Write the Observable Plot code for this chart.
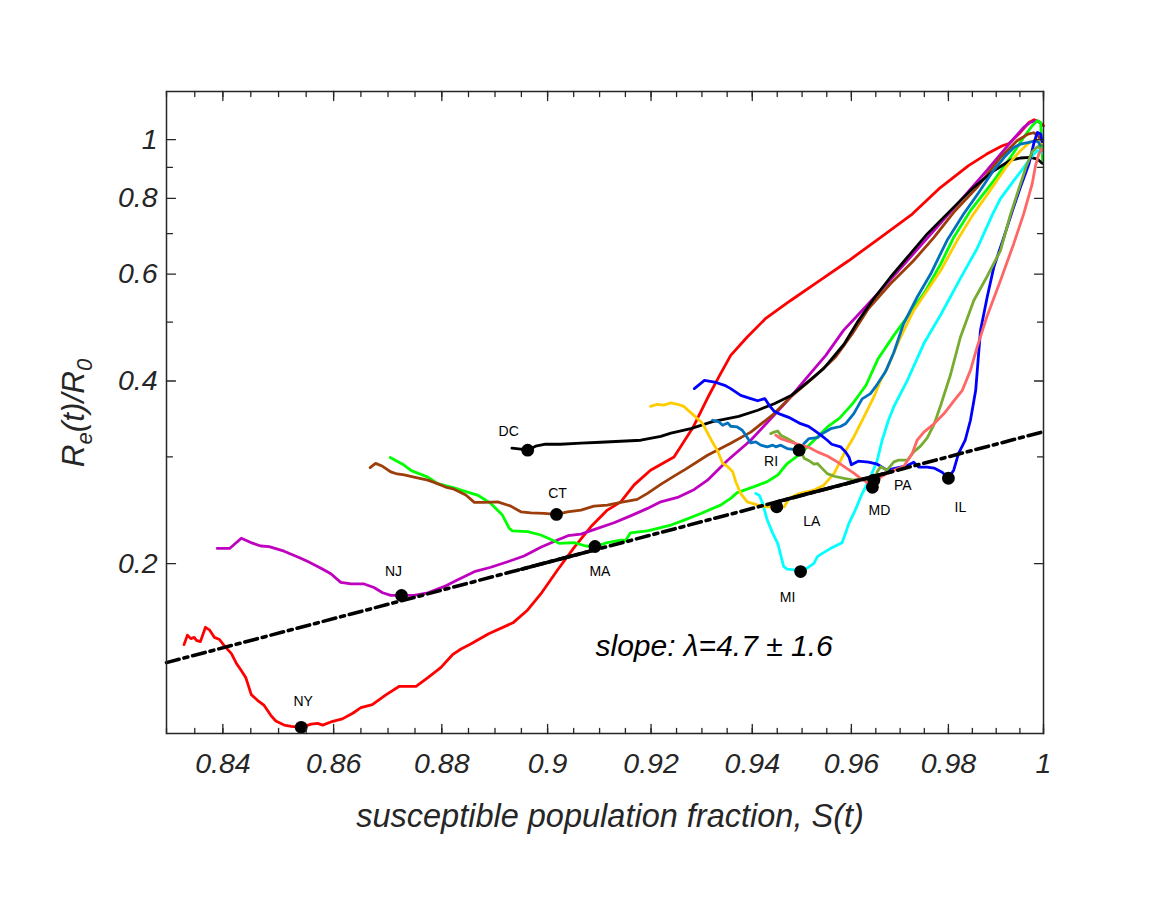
<!DOCTYPE html>
<html>
<head>
<meta charset="utf-8">
<script src="https://cdn.jsdelivr.net/npm/d3@7"></script>
<script src="https://cdn.jsdelivr.net/npm/@observablehq/plot@0.6"></script>
<style>
  body { margin: 0; background: #ffffff; }
  svg { display: block; }
</style>
</head>
<body>
<div id="chart"></div>
<script>
// ---------------- DATA ----------------
// state curves: [S(t), Re(t)/R0]
const NY = [[0.8331,0.1471],[0.8337,0.1525],[0.8343,0.1505],[0.8349,0.1512],[0.8353,0.1495],[0.8360,0.1488],[0.8369,0.1571],[0.8376,0.1556],[0.8385,0.1512],[0.8394,0.1500],[0.8403,0.1463],[0.8415,0.1423],[0.8424,0.1371],[0.8432,0.1337],[0.8441,0.1298],[0.8451,0.1216],[0.8462,0.1191],[0.8474,0.1168],[0.8486,0.1125],[0.8495,0.1101],[0.8510,0.1084],[0.8523,0.1079],[0.8541,0.1075],[0.8559,0.1088],[0.8571,0.1091],[0.8580,0.1084],[0.8595,0.1097],[0.8616,0.1110],[0.8635,0.1134],[0.8650,0.1158],[0.8671,0.1172],[0.8696,0.1216],[0.8721,0.1256],[0.8752,0.1256],[0.8774,0.1298],[0.8798,0.1348],[0.8820,0.1416],[0.8836,0.1447],[0.8855,0.1476],[0.8888,0.1533],[0.8934,0.1598],[0.8962,0.1678],[0.8987,0.1783],[0.9019,0.1953],[0.9051,0.2128],[0.9083,0.2300],[0.9115,0.2451],[0.9141,0.2529],[0.9167,0.2697],[0.9199,0.2852],[0.9245,0.2998],[0.9282,0.3350],[0.9314,0.3790],[0.9334,0.4071],[0.9357,0.4409],[0.9390,0.4727],[0.9427,0.5074],[0.9477,0.5430],[0.9531,0.5820],[0.9595,0.6319],[0.9660,0.6899],[0.9725,0.7538],[0.9780,0.8290],[0.9842,0.9056],[0.9880,0.9464],[0.9913,0.9768],[0.9927,0.9853],[0.9951,1.0273],[0.9969,1.0669],[0.9980,1.0779],[0.9990,1.0710],[1.0,1.0537]];
const NJ = [[0.8390,0.2119],[0.8412,0.2119],[0.8433,0.2203],[0.8450,0.2167],[0.8468,0.2139],[0.8483,0.2134],[0.8510,0.2097],[0.8537,0.2048],[0.8553,0.2016],[0.8576,0.1968],[0.8595,0.1925],[0.8613,0.1863],[0.8632,0.1852],[0.8656,0.1852],[0.8674,0.1827],[0.8690,0.1791],[0.8705,0.1773],[0.8725,0.1773],[0.8748,0.1773],[0.8774,0.1791],[0.8804,0.1833],[0.8829,0.1880],[0.8861,0.1940],[0.8892,0.1973],[0.8924,0.2015],[0.8955,0.2059],[0.8987,0.2129],[0.9019,0.2188],[0.9039,0.2224],[0.9064,0.2238],[0.9096,0.2287],[0.9128,0.2336],[0.9160,0.2398],[0.9193,0.2467],[0.9219,0.2529],[0.9252,0.2572],[0.9285,0.2651],[0.9311,0.2746],[0.9351,0.2962],[0.9397,0.3195],[0.9437,0.3467],[0.9477,0.3765],[0.9510,0.4055],[0.9548,0.4409],[0.9584,0.4847],[0.9622,0.5228],[0.9660,0.5640],[0.9715,0.6319],[0.9770,0.7079],[0.9825,0.7931],[0.9880,0.8885],[0.9930,0.9890],[0.9958,1.0469],[0.9972,1.0669],[0.9983,1.0738],[0.9994,1.0657]];
const MA = [[0.8704,0.2992],[0.8727,0.2918],[0.8743,0.2847],[0.8774,0.2778],[0.8792,0.2710],[0.8823,0.2666],[0.8836,0.2644],[0.8867,0.2595],[0.8892,0.2514],[0.8914,0.2405],[0.8927,0.2287],[0.8933,0.2266],[0.8962,0.2258],[0.8987,0.2230],[0.9012,0.2182],[0.9022,0.2161],[0.9051,0.2166],[0.9073,0.2139],[0.9091,0.2135],[0.9115,0.2166],[0.9141,0.2188],[0.9150,0.2182],[0.9160,0.2249],[0.9193,0.2266],[0.9239,0.2316],[0.9265,0.2360],[0.9298,0.2420],[0.9337,0.2498],[0.9357,0.2563],[0.9370,0.2619],[0.9404,0.2679],[0.9430,0.2731],[0.9451,0.2800],[0.9470,0.2925],[0.9497,0.3038],[0.9531,0.3235],[0.9552,0.3364],[0.9576,0.3474],[0.9603,0.3674],[0.9630,0.3936],[0.9654,0.4343],[0.9687,0.4756],[0.9722,0.5195],[0.9753,0.5640],[0.9784,0.6239],[0.9811,0.6898],[0.9846,0.7636],[0.9895,0.8555],[0.9930,0.9344],[0.9958,1.0080],[0.9976,1.0537],[0.9987,1.0738],[0.9994,1.0657],[0.9996,0.9900],[0.9998,0.9250]];
const CT = [[0.8667,0.2880],[0.8677,0.2926],[0.8690,0.2894],[0.8705,0.2833],[0.8717,0.2811],[0.8730,0.2801],[0.8748,0.2778],[0.8774,0.2746],[0.8792,0.2710],[0.8807,0.2675],[0.8823,0.2654],[0.8845,0.2595],[0.8861,0.2524],[0.8880,0.2524],[0.8905,0.2529],[0.8930,0.2488],[0.8949,0.2435],[0.8968,0.2426],[0.8993,0.2420],[0.9017,0.2411],[0.9038,0.2435],[0.9064,0.2451],[0.9089,0.2488],[0.9115,0.2498],[0.9141,0.2523],[0.9173,0.2553],[0.9193,0.2612],[0.9219,0.2702],[0.9245,0.2788],[0.9268,0.2863],[0.9311,0.3018],[0.9357,0.3158],[0.9397,0.3295],[0.9427,0.3447],[0.9444,0.3535],[0.9477,0.3765],[0.9524,0.4059],[0.9568,0.4381],[0.9602,0.4786],[0.9635,0.5267],[0.9680,0.5786],[0.9728,0.6319],[0.9770,0.6899],[0.9811,0.7587],[0.9860,0.8341],[0.9909,0.9344],[0.9944,0.9955],[0.9967,1.0210],[0.9979,1.0261],[0.9989,1.0145],[0.9997,0.9831]];
const DC = [[0.8932,0.3100],[0.8949,0.3089],[0.8962,0.3077],[0.8977,0.3123],[0.8996,0.3147],[0.9025,0.3147],[0.9064,0.3159],[0.9102,0.3171],[0.9141,0.3183],[0.9180,0.3195],[0.9219,0.3243],[0.9239,0.3282],[0.9278,0.3340],[0.9321,0.3428],[0.9373,0.3497],[0.9411,0.3580],[0.9444,0.3670],[0.9477,0.3782],[0.9510,0.3977],[0.9544,0.4197],[0.9585,0.4599],[0.9612,0.4997],[0.9646,0.5470],[0.9680,0.5930],[0.9715,0.6398],[0.9756,0.6990],[0.9804,0.7636],[0.9853,0.8341],[0.9895,0.8885],[0.9930,0.9245],[0.9951,0.9324],[0.9972,0.9345],[0.9987,0.9287],[0.9997,0.9140]];
const MI = [[0.9407,0.2610],[0.9414,0.2593],[0.9421,0.2512],[0.9430,0.2360],[0.9441,0.2244],[0.9451,0.2161],[0.9457,0.2067],[0.9463,0.1978],[0.9470,0.1959],[0.9484,0.1953],[0.9497,0.1941],[0.9510,0.1966],[0.9524,0.2003],[0.9531,0.2054],[0.9541,0.2080],[0.9558,0.2120],[0.9581,0.2166],[0.9588,0.2244],[0.9595,0.2331],[0.9608,0.2451],[0.9622,0.2610],[0.9639,0.2778],[0.9653,0.2962],[0.9663,0.3195],[0.9676,0.3447],[0.9687,0.3629],[0.9715,0.4011],[0.9749,0.4611],[0.9784,0.5144],[0.9825,0.5905],[0.9860,0.6614],[0.9892,0.7521],[0.9909,0.7990],[0.9937,0.8555],[0.9958,0.8988],[0.9976,0.9405],[0.9987,0.9585],[0.9997,0.9512]];
const LA = [[0.9199,0.3634],[0.9212,0.3662],[0.9225,0.3650],[0.9239,0.3681],[0.9252,0.3662],[0.9265,0.3629],[0.9278,0.3548],[0.9291,0.3470],[0.9301,0.3407],[0.9311,0.3287],[0.9321,0.3170],[0.9331,0.3068],[0.9341,0.2928],[0.9351,0.2890],[0.9361,0.2836],[0.9367,0.2730],[0.9377,0.2610],[0.9390,0.2529],[0.9411,0.2498],[0.9430,0.2482],[0.9449,0.2482],[0.9464,0.2482],[0.9474,0.2563],[0.9494,0.2610],[0.9524,0.2644],[0.9544,0.2694],[0.9565,0.2817],[0.9585,0.3038],[0.9605,0.3235],[0.9626,0.3493],[0.9646,0.3765],[0.9660,0.4011],[0.9673,0.4193],[0.9701,0.4726],[0.9728,0.5228],[0.9756,0.5640],[0.9784,0.6084],[0.9818,0.6816],[0.9850,0.7493],[0.9884,0.8174],[0.9923,0.9056],[0.9951,0.9585],[0.9972,0.9917],[0.9987,0.9992],[0.9997,0.9861]];
const RI = [[0.9321,0.3447],[0.9334,0.3425],[0.9341,0.3382],[0.9351,0.3412],[0.9357,0.3369],[0.9370,0.3360],[0.9380,0.3319],[0.9387,0.3257],[0.9397,0.3163],[0.9407,0.3175],[0.9417,0.3136],[0.9430,0.3116],[0.9441,0.3136],[0.9447,0.3116],[0.9457,0.3136],[0.9470,0.3096],[0.9494,0.3077],[0.9504,0.3155],[0.9514,0.3215],[0.9531,0.3227],[0.9541,0.3276],[0.9558,0.3338],[0.9578,0.3366],[0.9588,0.3400],[0.9605,0.3535],[0.9622,0.3738],[0.9639,0.3814],[0.9653,0.3950],[0.9670,0.4146],[0.9687,0.4458],[0.9707,0.4970],[0.9735,0.5497],[0.9763,0.6003],[0.9797,0.6816],[0.9832,0.7545],[0.9863,0.8174],[0.9894,0.8885],[0.9920,0.9405],[0.9937,0.9705],[0.9951,0.9824],[0.9969,0.9891],[0.9983,0.9955],[0.9990,0.9891],[0.9995,0.9585]];
const IL = [[0.9285,0.3886],[0.9305,0.4011],[0.9325,0.3985],[0.9345,0.3935],[0.9357,0.3886],[0.9377,0.3789],[0.9397,0.3742],[0.9411,0.3711],[0.9425,0.3742],[0.9434,0.3647],[0.9444,0.3565],[0.9457,0.3524],[0.9473,0.3485],[0.9497,0.3402],[0.9513,0.3367],[0.9524,0.3319],[0.9538,0.3257],[0.9551,0.3195],[0.9560,0.3147],[0.9578,0.3116],[0.9588,0.3057],[0.9595,0.2999],[0.9600,0.2911],[0.9614,0.2951],[0.9635,0.2940],[0.9653,0.2917],[0.9673,0.2852],[0.9687,0.2869],[0.9701,0.2886],[0.9715,0.2903],[0.9728,0.2940],[0.9738,0.2886],[0.9756,0.2886],[0.9770,0.2875],[0.9787,0.2830],[0.9800,0.2766],[0.9811,0.2852],[0.9821,0.3038],[0.9835,0.3195],[0.9846,0.3447],[0.9857,0.3861],[0.9867,0.4847],[0.9881,0.5497],[0.9895,0.6163],[0.9916,0.6898],[0.9936,0.7709],[0.9951,0.8341],[0.9969,0.9110],[0.9980,0.9891],[0.9987,1.0273],[0.9994,1.0210],[0.9997,0.9917]];
const PA = [[0.9437,0.3276],[0.9444,0.3296],[0.9451,0.3309],[0.9457,0.3257],[0.9470,0.3215],[0.9484,0.3169],[0.9497,0.3077],[0.9504,0.2985],[0.9514,0.2957],[0.9524,0.2918],[0.9531,0.2925],[0.9541,0.2869],[0.9551,0.2815],[0.9565,0.2787],[0.9585,0.2764],[0.9605,0.2746],[0.9619,0.2764],[0.9632,0.2746],[0.9646,0.2746],[0.9653,0.2836],[0.9660,0.2890],[0.9673,0.2852],[0.9687,0.2944],[0.9697,0.2962],[0.9715,0.2962],[0.9728,0.3057],[0.9742,0.3125],[0.9756,0.3223],[0.9770,0.3390],[0.9784,0.3648],[0.9804,0.4088],[0.9825,0.4723],[0.9853,0.5430],[0.9880,0.5930],[0.9909,0.6563],[0.9930,0.7521],[0.9951,0.8441],[0.9964,0.9056],[0.9976,0.9548],[0.9987,0.9731],[0.9994,0.9676]];
const MD = [[0.9447,0.3257],[0.9457,0.3215],[0.9477,0.3174],[0.9497,0.3136],[0.9514,0.3109],[0.9531,0.3057],[0.9552,0.3007],[0.9572,0.2940],[0.9592,0.2866],[0.9605,0.2821],[0.9619,0.2764],[0.9631,0.2725],[0.9643,0.2672],[0.9660,0.2778],[0.9680,0.2836],[0.9707,0.2890],[0.9725,0.3038],[0.9735,0.3195],[0.9749,0.3295],[0.9770,0.3400],[0.9791,0.3535],[0.9811,0.3705],[0.9829,0.3861],[0.9846,0.4165],[0.9860,0.4549],[0.9880,0.5095],[0.9909,0.5858],[0.9937,0.6736],[0.9958,0.7541],[0.9976,0.8450],[0.9983,0.9056],[0.9990,0.9466],[0.9997,0.9640]];

const states  = ["NY", "NJ", "MA", "CT", "DC", "MI", "LA", "RI", "IL", "PA", "MD"];
const curves  = {NY, NJ, MA, CT, DC, MI, LA, RI, IL, PA, MD};
const colors  = ["#ff0000", "#bf00bf", "#00ff00", "#9c3d0a", "#000000", "#00ffff", "#ffcc00", "#0072bd", "#0000ff", "#77ac30", "#ff6666"];

// marked points (one per state)
const dotS = [0.8541, 0.8725, 0.9091, 0.9017, 0.8962, 0.9497, 0.9449, 0.9494, 0.9800, 0.9646, 0.9643];
const dotR = [0.1075, 0.1773, 0.2135, 0.2411, 0.3077, 0.1941, 0.2482, 0.3077, 0.2766, 0.2746, 0.2672];

// power-law fit line (straight on log-log), and its solid stretches
const fitS = [0.83, 1.0];
const fitR = [0.1374, 0.33];
const fitSolidA = [[0.895, 0.1959], [0.909, 0.2107]];
const fitSolidB = [[0.945, 0.2530], [0.968, 0.2832]];
const slopeText = "slope: λ=4.7 ± 1.6";
const slopeAt = [0.9092, 0.1459];

// axis ticks
const xMajor = [0.84, 0.86, 0.88, 0.9, 0.92, 0.94, 0.96, 0.98, 1];
const xMinor = d3.range(166, 201).map(k => k / 200);   // every 0.005
const yMajor = [0.2, 0.4, 0.6, 0.8, 1];
const yMinor = [0.3, 0.5, 0.7, 0.9];
const xTitle = "susceptible population fraction, S(t)";

// ---------------- LAYOUT / STYLE ----------------
const FONT = "'Liberation Sans', Arial, Helvetica, sans-serif";
const AX = "#262626";
const labelOffset = {DC:[-19,-19], CT:[1,-21], NJ:[-8,-24], MA:[5,25], NY:[2,-26], RI:[-28,11], LA:[35,15], MI:[-13,26], MD:[7,23], PA:[29,5], IL:[12,29]};

const tickShape = {draw(ctx, l) { ctx.moveTo(0, 0); ctx.lineTo(0, -l); }};
const tickMarks = [];
for (const [anchor, rot] of [["bottom", 0], ["top", 180]]) {
  tickMarks.push(Plot.vector(xMinor, {x: d => d, frameAnchor: anchor, rotate: rot, length: 5, anchor: "start", shape: tickShape, stroke: AX, strokeWidth: 1.3}));
  tickMarks.push(Plot.vector(xMajor, {x: d => d, frameAnchor: anchor, rotate: rot, length: 9, anchor: "start", shape: tickShape, stroke: AX, strokeWidth: 1.3}));
}
for (const [anchor, rot] of [["left", 90], ["right", -90]]) {
  tickMarks.push(Plot.vector(yMinor, {y: d => d, frameAnchor: anchor, rotate: rot, length: 6, anchor: "start", shape: tickShape, stroke: AX, strokeWidth: 1.3}));
  tickMarks.push(Plot.vector(yMajor, {y: d => d, frameAnchor: anchor, rotate: rot, length: 9, anchor: "start", shape: tickShape, stroke: AX, strokeWidth: 1.3}));
}

const lineMarks = states.map((s, i) =>
  Plot.line(curves[s], {x: d => d[0], y: d => d[1], stroke: colors[i], strokeWidth: 2.8, strokeLinejoin: "round", strokeLinecap: "round"}));

const dots = states.map((s, i) => ({s, S: dotS[i], R: dotR[i]}));
const labelMarks = dots.map(d =>
  Plot.text([d], {x: "S", y: "R", text: "s", dx: labelOffset[d.s][0], dy: labelOffset[d.s][1], fontSize: 14, fill: "#000", fontFamily: FONT}));

const chart = Plot.plot({
  width: 1176,
  height: 909,
  marginLeft: 166,
  marginRight: 133,
  marginTop: 91,
  marginBottom: 176,
  x: {type: "log", domain: [0.83, 1]},
  y: {type: "log", domain: [0.105, 1.2]},
  style: {background: "#ffffff", fontFamily: FONT},
  marks: [
    ...lineMarks,
    Plot.line(fitS.map((s, i) => [s, fitR[i]]), {x: d => d[0], y: d => d[1], stroke: "#000", strokeWidth: 3.6, strokeDasharray: "13,5,4,5"}),
    Plot.line(fitSolidA, {x: d => d[0], y: d => d[1], stroke: "#000", strokeWidth: 3.6}),
    Plot.line(fitSolidB, {x: d => d[0], y: d => d[1], stroke: "#000", strokeWidth: 3.6}),
    Plot.dot(dots, {x: "S", y: "R", r: 6.4, fill: "#000", stroke: "none"}),
    ...labelMarks,
    Plot.text([slopeAt], {x: d => d[0], y: d => d[1], text: () => slopeText, textAnchor: "start", fontSize: 30, fontStyle: "italic", fill: "#000", fontFamily: FONT}),
    Plot.axisX({ticks: xMajor, tickSize: 0, tickPadding: 19, tickFormat: d => String(d), fontSize: 28.5, fontStyle: "italic", fill: AX, label: null, fontFamily: FONT}),
    Plot.axisY({ticks: yMajor, tickSize: 0, tickPadding: 9, tickFormat: d => String(d), fontSize: 28.5, fontStyle: "italic", fill: AX, label: null, fontFamily: FONT}),
    ...tickMarks,
    Plot.frame({stroke: AX, strokeWidth: 1.5})
  ]
});
document.getElementById("chart").append(chart);

// axis titles
const svg = d3.select(chart);
svg.append("text")
  .attr("x", 610).attr("y", 827)
  .attr("text-anchor", "middle")
  .attr("font-family", FONT).attr("font-size", 32.5).attr("font-style", "italic")
  .attr("fill", AX)
  .text(xTitle);

const yt = svg.append("text")
  .attr("transform", "translate(84,413) rotate(-90)")
  .attr("text-anchor", "middle")
  .attr("font-family", FONT).attr("font-size", 31.5).attr("font-style", "italic")
  .attr("fill", AX);
yt.append("tspan").text("R");
yt.append("tspan").attr("dy", 8).attr("font-size", 22).text("e");
yt.append("tspan").attr("dy", -8).text("(t)/R");
yt.append("tspan").attr("dy", 8).attr("font-size", 22).text("0");
</script>
</body>
</html>
